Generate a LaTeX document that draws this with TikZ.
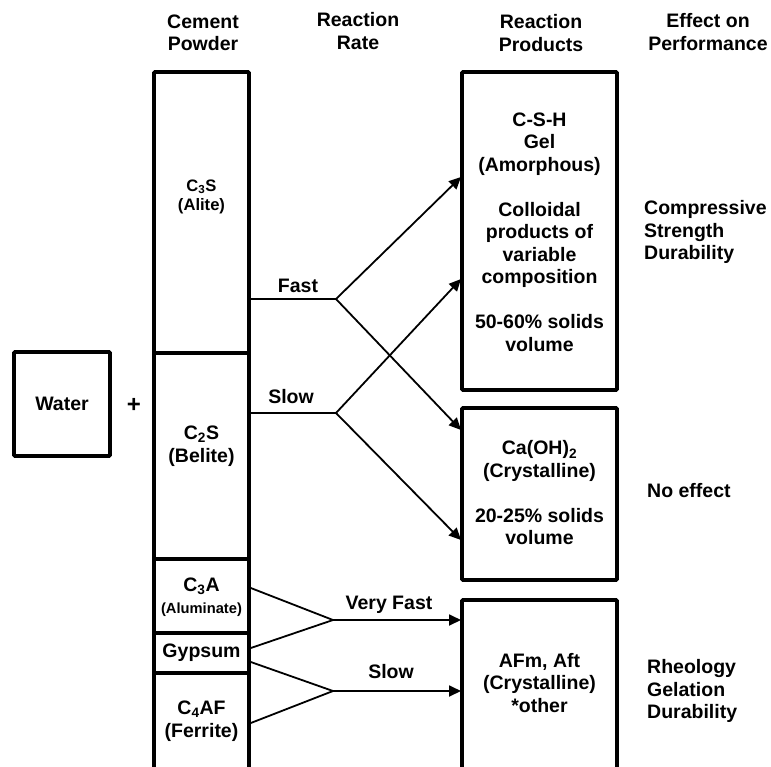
\documentclass[tikz,border=0pt]{standalone}
\usepackage{fontspec}
\setmainfont{Liberation Sans}
\usetikzlibrary{arrows.meta}
\newcommand{\mainsize}{\fontsize{19.5}{22.5}\selectfont}
\tikzset{>/.tip={Triangle[length=12pt,width=11pt]},
  box/.style={draw, line width=3.6pt, rounded corners=1pt, inner sep=0pt},
  lbl/.style={align=center, inner sep=0pt},
  link/.style={line width=1.8pt}}

\begin{document}
\begin{tikzpicture}[x=1pt,y=-1pt,font=\bfseries\mainsize]
\useasboundingbox (0,0) rectangle (771,766);

% column heads
\node[lbl] (head-cem) at (203,33) {Cement\\Powder};
\node[lbl] (head-rate) at (358,31) {Reaction\\Rate};
\node[lbl] (head-prod) at (541,33) {Reaction\\Products};
\node[lbl] (head-eff) at (708,32) {Effect on\\Performance};

\node[box, minimum width=96pt, minimum height=104pt] (water) at (62,404) {Water};
\node[lbl, font=\bfseries\fontsize{24}{24}\selectfont] (plus) at (134,405) {+};

% cement powder
\node[box, minimum width=95pt, minimum height=281pt] (c3s) at (201.5,212.5) {};
\node[box, minimum width=95pt, minimum height=206pt] (c2s) at (201.5,456) {};
\node[box, minimum width=95pt, minimum height=74pt] (c3a) at (201.5,596) {};
\node[box, minimum width=95pt, minimum height=40pt] (gyp) at (201.5,653) {Gypsum};
\node[box, minimum width=95pt, minimum height=104pt] (c4af) at (201.5,725) {};

\node[lbl, font=\bfseries\fontsize{16.6}{19.5}\selectfont] (c3s-txt) at (201.5,197) {C\textsubscript{3}S\\(Alite)};
\node[lbl] (c2s-txt) at (201.5,446) {C\textsubscript{2}S\\(Belite)};
\node[lbl] (c3a-txt) at (201.5,597) {C\textsubscript{3}A\\{\fontsize{14.7}{17}\selectfont (Aluminate)}};
\node[lbl] (c4af-txt) at (201.5,721) {C\textsubscript{4}AF\\(Ferrite)};

% reaction products
\node[box, minimum width=155pt, minimum height=318pt] (csh) at (539.5,231) {};
\node[box, minimum width=155pt, minimum height=172pt] (ch) at (539.5,494) {};
\node[box, minimum width=155pt, minimum height=176pt] (afm) at (539.5,688) {};

\node[lbl] (csh-txt) at (539.5,232) {C-S-H\\Gel\\(Amorphous)\\[22.5pt]Colloidal\\products of\\variable\\composition\\[22.5pt]50-60\% solids\\volume};
\node[lbl] (ch-txt) at (539.5,493) {Ca(OH)\textsubscript{2}\\(Crystalline)\\[22.5pt]20-25\% solids\\volume};
\node[lbl] (afm-txt) at (539.5,683) {AFm, Aft\\(Crystalline)\\*other};

% effect on performance
\node[lbl, align=left, anchor=west] (eff-csh) at (644,232) {Compressive\\Strength\\Durability};
\node[lbl, anchor=west] (eff-ch) at (647,491) {No effect};
\node[lbl, align=left, anchor=west] (eff-afm) at (647,691) {Rheology\\Gelation\\Durability};

% forks and targets
\coordinate (fast) at (336,299);
\coordinate (slow) at (336,413);
\coordinate (vfast) at (333,620);
\coordinate (slow2) at (333,691);
\coordinate (csh-a) at (461,177);
\coordinate (csh-b) at (461,279);
\coordinate (ch-a) at (461,430);
\coordinate (ch-b) at (461,540);
\coordinate (afm-a) at (461,620);
\coordinate (afm-b) at (461,691);

\draw[link] (c3s.east |- fast) -- (fast);
\draw[link,->] (fast) -- (csh-a);
\draw[link,->] (fast) -- (ch-a);
\draw[link] (c2s.east |- slow) -- (slow);
\draw[link,->] (slow) -- (csh-b);
\draw[link,->] (slow) -- (ch-b);
\draw[link] ([yshift=8pt]c3a.east) -- (vfast);
\draw[link] ([yshift=5pt]gyp.east) -- (vfast);
\draw[link,->] (vfast) -- (afm-a);
\draw[link] ([yshift=-9pt]gyp.east) -- (slow2);
\draw[link] ([yshift=2pt]c4af.east) -- (slow2);
\draw[link,->] (slow2) -- (afm-b);

\node[lbl] (fast-lbl) at (298,286) {Fast};
\node[lbl] (slow-lbl) at (291,397) {Slow};
\node[lbl] (vfast-lbl) at (389,605) {Very Fast};
\node[lbl] (slow2-lbl) at (391,672) {Slow};
\end{tikzpicture}
\end{document}
